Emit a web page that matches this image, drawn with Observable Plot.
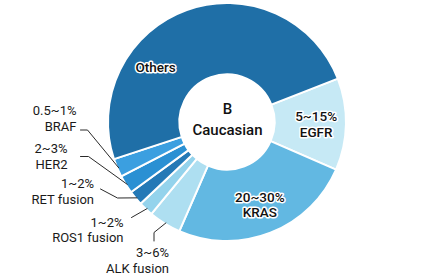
<!DOCTYPE html>
<html><head><meta charset="utf-8">
<script src="https://cdn.jsdelivr.net/npm/d3@7"></script>
<script src="https://cdn.jsdelivr.net/npm/@observablehq/plot@0.6"></script>
<style>html,body{margin:0;padding:0;background:#fff} svg{display:block}</style>
</head><body><div id="chart"></div>
<script>
// ---- data ----
const categories = ["EGFR", "KRAS", "ALK fusion", "ROS1 fusion", "RET fusion", "HER2", "BRAF", "Others"];
const values = [12.5, 25, 4.4, 2, 2, 2.5, 2.5, 49.1];
const rangeLabels = ["5~15%", "20~30%", "3~6%", "1~2%", "1~2%", "2~3%", "0.5~1%", ""];
const colors = ["#c6e9f5", "#62b8e2", "#aedff1", "#94d3ec", "#2479b6", "#2a90d3", "#3b9fe0", "#1f6fa7"];
const centerTitle = ["B", "Caucasian"];
const insideCategories = ["EGFR", "KRAS", "Others"];

// ---- layout ----
const W = 434, H = 276, CX = 227, CY = 122, R_PX = 119, INNER = 0.4, START_DEG = 68.6;
const u = ([px, py]) => ({x: (px - CX) / R_PX, y: (CY - py) / R_PX});
// outside label: right edge / vertical middle of text block, leader elbow points (pixel layout)
const outsideLayout = {
  "BRAF":        {text: [76, 117.5], path: [[80, 129.5], [87, 129.5]]},
  "HER2":        {text: [67, 155.5], path: [[80, 156], [88, 156]]},
  "RET fusion":  {text: [93.5, 190.5], path: [[100, 188.5], [117, 197.5]]},
  "ROS1 fusion": {text: [123, 229], path: [[131, 217]]},
  "ALK fusion":  {text: [168.5, 259.5], path: [[153.5, 240.5], [153.5, 232]]}
};
const insideOverride = {"Others": {angleDeg: 307.4, r: 0.76}};

const data = categories.map((c, i) => ({category: c, value: values[i], range: rangeLabels[i], color: colors[i]}));
const a0 = START_DEG * Math.PI / 180;
const arcs = d3.pie().sort(null).value(d => d.value).startAngle(a0).endAngle(a0 + 2 * Math.PI)(data);
const arcOf = Object.fromEntries(arcs.map(a => [a.data.category, a]));
const midA = a => (a.startAngle + a.endAngle) / 2;
const polar = (r, ang) => ({x: r * Math.sin(ang), y: r * Math.cos(ang)});

// leader lines
const leaders = [];
for (const [cat, L] of Object.entries(outsideLayout)) {
  L.path.forEach(p => leaders.push({k: cat, ...u(p)}));
  leaders.push({k: cat, ...polar(0.99, midA(arcOf[cat]))});
}
const outsideText = Object.entries(outsideLayout).map(([cat, L]) => ({
  ...u(L.text), label: arcOf[cat].data.range + "\n" + cat
}));
const insideText = insideCategories.map(cat => {
  const a = arcOf[cat], o = insideOverride[cat];
  const p = o ? polar(o.r, o.angleDeg * Math.PI / 180) : polar(0.745, midA(a));
  return {...p, label: a.data.range ? a.data.range + "\n" + cat : cat};
});
const centerText = [{...u([CX, 117.5]), label: centerTitle.join("\n")}];

function slices(index, {x, y}) {
  const cx = x(0), cy = y(0), r = x(1) - x(0);
  const arc = d3.arc().innerRadius(r * INNER).outerRadius(r);
  const g = d3.create("svg:g").attr("transform", `translate(${cx},${cy})`);
  g.selectAll("path").data(arcs).join("path")
    .attr("d", arc).attr("fill", d => d.data.color)
    .attr("stroke", "white").attr("stroke-width", 2).attr("stroke-linejoin", "round");
  return g.node();
}

const chart = Plot.plot({
  width: W, height: H, margin: 0,
  x: {domain: [-CX / R_PX, (W - CX) / R_PX], axis: null},
  y: {domain: [(CY - H) / R_PX, CY / R_PX], axis: null},
  style: {fontFamily: "Roboto, sans-serif", background: "white", overflow: "visible"},
  marks: [
    slices,
    Plot.line(leaders, {x: "x", y: "y", z: "k", stroke: "#2a2a2a", strokeWidth: 1}),
    Plot.text(outsideText, {x: "x", y: "y", text: "label", textAnchor: "end", fontSize: 13, lineHeight: 1.19, fill: "#1a1a1a"}),
    Plot.text(insideText, {x: "x", y: "y", text: "label", fontSize: 13.5, lineHeight: 1.12, fontWeight: 500, fill: "#111", stroke: "white", strokeWidth: 3}),
    Plot.text(centerText, {x: "x", y: "y", text: "label", fontSize: 15, lineHeight: 1.36, fontWeight: 500, fill: "#111"})
  ]
});
document.getElementById("chart").append(chart);
</script>
</body></html>
